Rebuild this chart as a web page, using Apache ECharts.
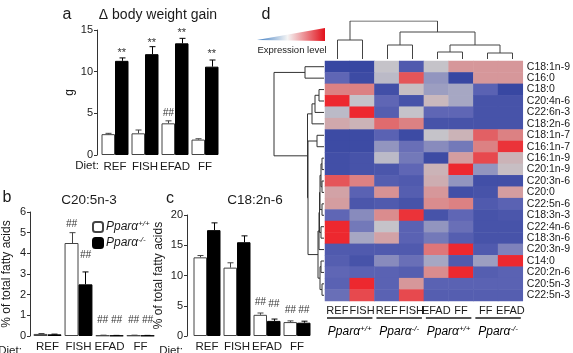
<!DOCTYPE html>
<html>
<head>
<meta charset="utf-8">
<script src="https://cdn.jsdelivr.net/npm/echarts@6/dist/echarts.min.js"></script>
<style>
  html, body { margin: 0; padding: 0; background: #fff; }
  #chart { width: 573px; height: 353px; }
</style>
</head>
<body>
<div id="chart"></div>
<script>
const FONT = '"Liberation Sans", Arial, sans-serif';
const dietCats = ['REF', 'FISH', 'EFAD', 'FF'];

// panel a: body weight gain (g)
const gainWT = [2.5, 2.6, 3.8, 1.85];
const gainWTErr = [0.1, 0.4, 0.3, 0.1];
const gainKO = [11.3, 12.1, 13.4, 10.6];
const gainKOErr = [0.35, 0.9, 0.6, 0.8];
// [category, y position, text, side]  side -1 = +/+, 1 = -/-
const gainMarks = [[2, 5.0, '##', -1], [0, 12.3, '**', 1], [1, 13.5, '**', 1], [2, 14.6, '**', 1], [3, 12.1, '**', 1]];

// panel b: C20:5n-3 (% of total fatty acids)
const epaWT = [0.1, 4.5, 0.03, 0.03];
const epaWTErr = [0.02, 0.5, 0.01, 0.01];
const epaKO = [0.08, 2.5, 0.02, 0.02];
const epaKOErr = [0.01, 0.6, 0.01, 0.01];
const epaMarks = [[1, 5.4, '##', -1], [1, 3.9, '##', 1], [2, 0.75, '##', -1], [2, 0.75, '##', 1], [3, 0.75, '##', -1], [3, 0.75, '##', 1]];

// panel c: C18:2n-6
const laWT = [13.0, 11.3, 3.5, 2.3];
const laWTErr = [0.3, 0.8, 0.3, 0.2];
const laKO = [17.5, 15.5, 2.5, 2.2];
const laKOErr = [1.2, 1.05, 0.3, 0.25];
const laMarks = [[2, 5.6, '##', -1], [2, 5.2, '##', 1], [3, 4.3, '##', -1], [3, 4.3, '##', 1]];

// panel d: heatmap
const heatCols = ['REF', 'FISH', 'REF', 'FISH', 'EFAD', 'FF', 'FF', 'EFAD'];
const heatGroups = [[0, 1, '+/+'], [2, 3, '-/-'], [4, 5, '+/+'], [6, 7, '-/-']];
const fattyAcids = ['C18:1n-9', 'C16:0', 'C18:0', 'C20:4n-6', 'C22:6n-3', 'C18:2n-6', 'C18:1n-7',
  'C16:1n-7', 'C16:1n-9', 'C20:1n-9', 'C20:3n-6', 'C20:0', 'C22:5n-6', 'C18:3n-3', 'C22:4n-6',
  'C18:3n-6', 'C20:3n-9', 'C14:0', 'C20:2n-6', 'C20:5n-3', 'C22:5n-3'];
const expression = [
  [-1.8, -1.8, 0.0, -1.3, 0.0, 0.8, 0.8, 0.8],
  [-1.0, -1.7, -0.1, 1.5, -0.5, -1.8, 0.8, 0.8],
  [1.1, 1.1, -1.6, 0.1, -0.4, -0.3, -1.1, -1.8],
  [1.9, 0.0, -1.0, -1.5, 0.2, -0.3, -1.5, -1.5],
  [-0.1, 1.9, -1.2, 0.0, -1.0, -1.0, -1.5, -1.5],
  [0.5, 0.3, 1.3, 1.1, -1.5, -1.5, -1.5, -1.5],
  [-1.7, -1.7, -1.1, -1.7, 0.0, 0.3, 1.4, 1.1],
  [-1.7, -1.7, -0.5, -0.9, -0.6, -0.8, 1.1, 1.8],
  [-1.6, -1.5, -0.1, -0.8, -1.7, 0.7, 1.6, 0.3],
  [-1.6, -1.5, -1.4, -1.0, 0.3, 1.9, -0.5, 0.1],
  [1.5, 1.1, -1.2, -1.3, 0.4, -0.5, -1.6, -1.6],
  [0.6, -1.1, 0.9, -1.2, 0.8, -1.6, -1.5, 0.7],
  [0.7, -1.4, -1.3, -1.5, 1.0, 1.1, -1.3, -1.1],
  [-1.0, -0.6, 1.0, 1.8, -1.5, -1.0, -1.5, -1.4],
  [1.9, -0.8, 0.0, -1.1, -0.5, -0.9, -1.5, -1.5],
  [1.9, -0.3, 0.6, -1.1, -0.8, -1.2, -1.5, -1.5],
  [-1.3, -1.3, -1.3, -1.3, 1.2, 1.9, -1.3, -0.7],
  [-1.2, -1.5, -0.6, -0.9, -0.3, -1.3, -0.4, 1.9],
  [-1.0, -1.1, -1.1, -1.2, 1.0, 1.9, -1.2, -1.1],
  [-1.1, 1.9, -1.1, 0.8, -1.1, -1.1, -1.1, -1.1],
  [-0.9, 1.6, -1.1, 1.6, -1.2, -1.2, -1.2, -1.2]
];

// cluster trees: [left, right, height], leaves are indices
const colTree = [[0, 1, 19], [[2, 3, 14], [[4, 5, 7], [6, 7, 6], 14], 27], 38];
const rowTree = [
  [0, 1, 19],
  [
    [[[2, 3, 5], 4, 9], 5, 12],
    [
      [6, 7, 7],
      [
        [[[[[8, 9, 2], [10, 11, 2], 3], [12, 13, 2], 4], [14, 15, 3], 4.5], 16, 5],
        [[17, 18, 3], [19, 20, 2], 4],
        6
      ],
      16
    ],
    16.5
  ],
  50
];

// walk a tree and return U-shaped polylines as [pos, height] pairs
function treeSegments(node, out) {
  if (typeof node === 'number') return { pos: node, h: 0 };
  const l = treeSegments(node[0], out);
  const r = treeSegments(node[1], out);
  const h = node[2];
  out.push([[l.pos, l.h], [l.pos, h], [r.pos, h], [r.pos, r.h]]);
  return { pos: (l.pos + r.pos) / 2, h };
}
const colSegs = []; treeSegments(colTree, colSegs);
const rowSegs = []; treeSegments(rowTree, rowSegs);

const supRich = {
  i: { fontStyle: 'italic', fontSize: 12, fontFamily: FONT, color: '#1a1a1a', lineHeight: 14 },
  s: { fontStyle: 'italic', fontSize: 8, fontFamily: FONT, color: '#1a1a1a', lineHeight: 8, verticalAlign: 'top' }
};

const chart = echarts.init(document.getElementById('chart'));

function barPair(grid, wt, ko) {
  return [
    { name: 'Pparα+/+', type: 'bar', xAxisIndex: grid, yAxisIndex: grid, data: wt, barWidth: '45%', barGap: '0%',
      itemStyle: { color: '#fff', borderColor: '#444', borderWidth: 1 }, silent: true },
    { name: 'Pparα-/-', type: 'bar', xAxisIndex: grid, yAxisIndex: grid, data: ko, barWidth: '45%', barGap: '0%',
      itemStyle: { color: '#000', borderColor: '#000', borderWidth: 1 }, silent: true }
  ];
}

function errSeries(grid, means, errs, side, color) {
  return {
    type: 'custom', xAxisIndex: grid, yAxisIndex: grid, z: 5, clip: false, silent: true,
    data: means.map((m, i) => [i, m, errs[i]]),
    renderItem(params, api) {
      const i = api.value(0), m = api.value(1), e = api.value(2);
      const band = api.size([1, 0])[0];
      const base = api.coord([i, m]);
      const top = api.coord([i, m + e]);
      const x = Math.round(base[0] + side * band * 0.225) + 0.5;
      return { type: 'group', children: [
        { type: 'line', shape: { x1: x, y1: base[1], x2: x, y2: top[1] }, style: { stroke: color, lineWidth: 1 } },
        { type: 'line', shape: { x1: x - 3, y1: top[1], x2: x + 3, y2: top[1] }, style: { stroke: color, lineWidth: 1 } }
      ] };
    }
  };
}

function markSeries(grid, marks) {
  return {
    type: 'custom', xAxisIndex: grid, yAxisIndex: grid, z: 6, clip: false, silent: true,
    data: marks.map(m => [m[0], m[1]]),
    renderItem(params, api) {
      const mk = marks[params.dataIndex];
      const band = api.size([1, 0])[0];
      const p = api.coord([mk[0], mk[1]]);
      return { type: 'text', style: {
        text: mk[2], x: p[0] + mk[3] * band * 0.225, y: p[1],
        align: 'center', verticalAlign: 'middle', textAlign: 'center', textVerticalAlign: 'middle',
        font: (mk[2] === '**' ? '11px ' : 'italic 10px ') + FONT, fill: '#333'
      } };
    }
  };
}

function catAxis(grid, margin) {
  return {
    type: 'category', gridIndex: grid, data: dietCats,
    axisLine: { show: false }, axisTick: { show: false },
    axisLabel: { color: '#1a1a1a', fontSize: 11.5, fontFamily: FONT, margin, interval: 0 }
  };
}

function valAxis(grid, max, interval, offset, name, nameGap) {
  return {
    type: 'value', gridIndex: grid, min: 0, max, interval, offset,
    name, nameLocation: 'middle', nameGap,
    nameTextStyle: { color: '#1a1a1a', fontSize: 12, fontFamily: FONT },
    axisLine: { show: true, lineStyle: { color: '#333', width: 1 } },
    axisTick: { show: true, length: 3, lineStyle: { color: '#333' } },
    axisLabel: { color: '#1a1a1a', fontSize: 11, fontFamily: FONT, margin: 4 },
    splitLine: { show: false }
  };
}

const series = [
  ...barPair(0, gainWT, gainKO),
  errSeries(0, gainWT, gainWTErr, -1, '#444'),
  errSeries(0, gainKO, gainKOErr, 1, '#000'),
  markSeries(0, gainMarks),
  ...barPair(1, epaWT, epaKO),
  errSeries(1, epaWT, epaWTErr, -1, '#444'),
  errSeries(1, epaKO, epaKOErr, 1, '#000'),
  markSeries(1, epaMarks),
  ...barPair(2, laWT, laKO),
  errSeries(2, laWT, laWTErr, -1, '#444'),
  errSeries(2, laKO, laKOErr, 1, '#000'),
  markSeries(2, laMarks)
];

const heatIndex = series.length;
const heatData = [];
expression.forEach((row, r) => row.forEach((v, c) => heatData.push([c, r, v])));
series.push({
  type: 'heatmap', xAxisIndex: 3, yAxisIndex: 3, data: heatData, silent: true,
  itemStyle: { borderWidth: 0 }
});

// genotype groups under the heatmap
series.push({
  type: 'custom', xAxisIndex: 3, yAxisIndex: 3, clip: false, silent: true,
  data: heatGroups.map(g => [g[0], g[1]]),
  renderItem(params, api) {
    const g = heatGroups[params.dataIndex];
    const cell = api.size([1, 1]);
    const a = api.coord([g[0], fattyAcids.length - 1]);
    const b = api.coord([g[1], fattyAcids.length - 1]);
    const bottom = a[1] + cell[1] / 2;
    const x1 = a[0] - cell[0] / 2 + 2, x2 = b[0] + cell[0] / 2 - 2;
    return { type: 'group', children: [
      { type: 'line', shape: { x1, y1: bottom + 17, x2, y2: bottom + 17 }, style: { stroke: '#555', lineWidth: 2 } },
      { type: 'text', style: {
        text: '{i|Pparα}{s|' + g[2] + '}', rich: supRich,
        x: (x1 + x2) / 2, y: bottom + 31, align: 'center', verticalAlign: 'middle',
        textAlign: 'center', textVerticalAlign: 'middle'
      } }
    ] };
  }
});

series.push({
  type: 'lines', coordinateSystem: 'cartesian2d', xAxisIndex: 4, yAxisIndex: 4, polyline: true, silent: true,
  lineStyle: { color: '#444', width: 1, opacity: 1 },
  data: colSegs.map(c => ({ coords: c }))
});
series.push({
  type: 'lines', coordinateSystem: 'cartesian2d', xAxisIndex: 5, yAxisIndex: 5, polyline: true, silent: true,
  lineStyle: { color: '#333', width: 1, opacity: 1 },
  data: rowSegs.map(c => ({ coords: c.map(p => [p[1], p[0]]) }))
});

const text = (t, x, y, size, extra) => ({
  type: 'text', silent: true,
  style: Object.assign({ text: t, x, y, font: size + 'px ' + FONT, fill: '#1a1a1a',
    align: 'center', verticalAlign: 'middle', textAlign: 'center', textVerticalAlign: 'middle' }, extra || {})
});

chart.setOption({
  animation: false,
  backgroundColor: '#fff',
  grid: [
    { left: 100, top: 30, width: 120, height: 125 },
    { left: 32, top: 212, width: 124, height: 128 },
    { left: 192, top: 215, width: 120, height: 126 },
    { left: 325, top: 61, width: 200, height: 240 },
    { left: 325, top: 21, width: 200, height: 38 },
    { left: 274, top: 61, width: 50, height: 240 }
  ],
  xAxis: [
    catAxis(0, 6),
    catAxis(1, 5),
    catAxis(2, 5),
    { type: 'category', gridIndex: 3, data: heatCols, axisLine: { show: false }, axisTick: { show: false },
      axisLabel: { color: '#1a1a1a', fontSize: 11, fontFamily: FONT, margin: 4, interval: 0 } },
    { type: 'value', gridIndex: 4, min: -0.5, max: 7.5, show: false },
    { type: 'value', gridIndex: 5, min: 0, max: 50, inverse: true, show: false }
  ],
  yAxis: [
    valAxis(0, 15, 5, 3, 'g', 21),
    valAxis(1, 6, 1, 2, '% of total fatty acids', 17),
    valAxis(2, 20, 5, 5, '% of total fatty acids', 22),
    { type: 'category', gridIndex: 3, data: fattyAcids, inverse: true, position: 'right',
      axisLine: { show: false }, axisTick: { show: false },
      axisLabel: { color: '#1a1a1a', fontSize: 10.5, fontFamily: FONT, margin: 4, interval: 0 } },
    { type: 'value', gridIndex: 4, min: 0, max: 38, show: false },
    { type: 'value', gridIndex: 5, min: -0.5, max: 20.5, inverse: true, show: false }
  ],
  visualMap: {
    show: false, type: 'continuous', min: -2, max: 2, dimension: 2, seriesIndex: heatIndex,
    inRange: { color: ['#2e3f9d', '#5f66b5', '#c5c3c9', '#da8c8e', '#ef1d24'] }
  },
  legend: {
    data: ['Pparα+/+', 'Pparα-/-'], left: 92, top: 220, orient: 'vertical',
    itemWidth: 10, itemHeight: 10, itemGap: 3, selectedMode: false, padding: 0,
    formatter: n => '{i|Pparα}{s|' + (n === 'Pparα+/+' ? '+/+' : '-/-') + '}',
    textStyle: { rich: supRich, padding: [0, 0, 0, -2] }
  },
  graphic: [
    text('a', 67, 15, 16),
    text('Δ body weight gain', 158, 15, 14),
    text('Diet:', 87, 166, 11.5),
    text('b', 7, 198, 16),
    text('C20:5n-3', 89, 200, 13.5),
    text('Diet:', 10, 351, 11.5),
    text('c', 170, 199, 16),
    text('C18:2n-6', 255, 200, 13.5),
    text('Diet:', 171, 351, 11.5),
    text('d', 266, 15, 16),
    {
      type: 'polygon', silent: true,
      shape: { points: [[257, 40], [325, 28], [325, 41]] },
      style: { fill: new echarts.graphic.LinearGradient(0, 0, 1, 0, [
        { offset: 0, color: '#3d7cc2' }, { offset: 0.45, color: '#f4f4f4' }, { offset: 1, color: '#e2101a' }
      ]) }
    },
    text('Expression level', 292, 50, 9.5)
  ],
  series
});
</script>
</body>
</html>
